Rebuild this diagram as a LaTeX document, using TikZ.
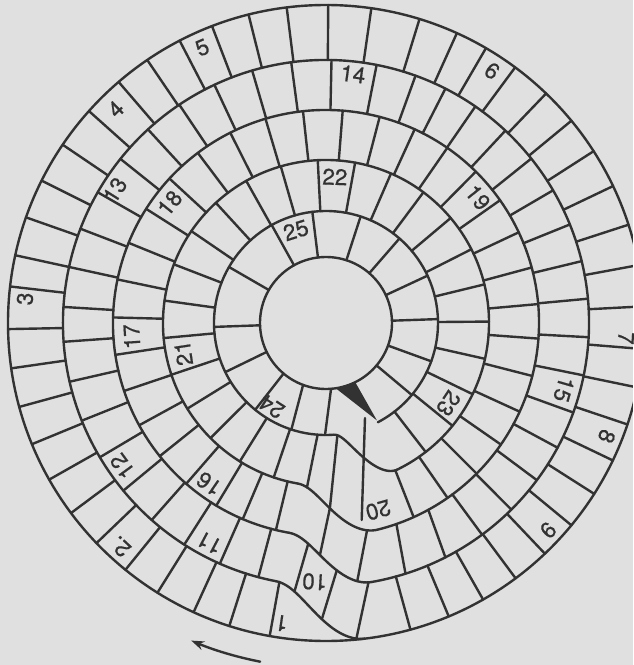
\documentclass[tikz,border=0pt]{standalone}
\usepackage{fontspec}
\setmainfont{TeX Gyre Heros}
\newfontfamily\numfont{TeX Gyre Heros}[FakeBold=0.6]
\usetikzlibrary{arrows.meta}
\definecolor{paper}{RGB}{224,224,224}
\definecolor{ink}{RGB}{50,50,50}
\begin{document}
\begin{tikzpicture}[x=1pt,y=1pt,line join=round,line cap=round,
 declare function={clampx(\t)=min(max(\t,0),1); easex(\t)=(1-cos(180*clampx(\t)))/2;
 spir(\p)=318-55*easex((\p-83)/18)-50*easex((\p-440)/20)-50*easex((\p-796)/24)-51*easex((\p-1144)/22)-46*((\p)>1502.5);},
 ln/.style={draw=ink,line width=2.4pt},
 lbl/.style={font=\numfont\fontsize{22.5}{22.5}\selectfont,text=ink,inner sep=0pt}]
\fill[paper] (-326,-342) rectangle (307,323);
\useasboundingbox (-326,-342) rectangle (307,323);
\begin{scope}
\clip (-326,-342) rectangle (307,323);
% rings
\draw[ln] (0,0) circle[radius=318];
\draw[ln] (0,0) circle[radius=66];
% spiral wall
\draw[ln] plot[domain=83:101,samples=36] ({-\x}:{spir(\x)});
\draw[ln] (-101:263) arc[start angle=-101,end angle=-440,radius=263];
\draw[ln] plot[domain=440:460,samples=36] ({-\x}:{spir(\x)});
\draw[ln] (-460:213) arc[start angle=-460,end angle=-796,radius=213];
\draw[ln] plot[domain=796:820,samples=36] ({-\x}:{spir(\x)});
\draw[ln] (-820:163) arc[start angle=-820,end angle=-1144,radius=163];
\draw[ln] plot[domain=1144:1166,samples=36] ({-\x}:{spir(\x)});
\draw[ln] (-1166:112) arc[start angle=-1166,end angle=-1502.4,radius=112];
% dividers (clockwise angle from the +x axis)
\foreach \p in {100.2,107.7,114.6,122.0,129.1,136.2,143.3,150.5,157.6,164.7,171.8,178.9,
  186.6,192.3,199.4,206.6,214.1,221.8,229.3,235.8,242.6,249.0,255.9,262.9,270.4,278.2,
  287.1,294.3,300.2,306.5,313.8,320.5,327.3,334.5,342.0,349.5,357.0,364.7,371.7,378.6,
  385.6,392.5,399.5,406.5,413.4,420.4,427.3,434.6,
  464.9,473.8,482.6,491.5,500.4,509.3,518.2,527.1,535.9,543.5,552.3,561.0,
  569.8,578.6,587.4,596.1,604.9,613.7,622.4,631.2,641.1,649.9,657,664.6,673.0,681.3,
  689.7,698.0,706.4,714.7,723.1,731.5,739.9,748.3,756.7,765.2,773.6,
  823.6,833,841,851,861.3,871.3,881.4,891.4,901.5,911.8,922.1,932.4,942.7,953.0,
  963.3,973.5,983.8,994.5,1004.6,1014.6,1024.7,1034.7,1044.8,1054.8,1064.9,1074.9,1084.2,
  1094.4,1104.6,1114.8,1125,1135.2,
  1188.7,1201.9,1215.1,1228.3,1241.5,1254.7,1267.9,1281.1,1294.3,1307.5,1320.7,
  1333.9,1347.1,1360.3,1373.5,1386.7,1399.9,1413.1,1426.3,1439.5,1452.7,1465.9,1479.1,1492.3,
  1594,1618,1650,1681,1703,1728,1751,1775,1798,1820,1840}{
  \draw[ln] ({-\p}:{spir(\p)}) -- ({-\p}:{spir(\p-360)});}
% slanted dividers in the bottom transition zone: inner end / outer end
\foreach \a/\b in {440.7/444.5,447.5/450.8,454.6/456.7,
  781.3/783,790.7/792.4,798.8/803.1,808.8/811.5,
  1144.8/1145.7,1164.2/1168.8,1174.3/1176.6,
  1525.6/1530.5,1550.3/1548,1570/1569.2}{
  \draw[ln] ({-\a}:{spir(\a)}) -- ({-\b}:{spir(\b-360)});}
\coordinate (lt) at (39,-95);
\coordinate (lb) at (35.7,-197);
\draw[ln] (lt) -- (lb);
% goal wedge
\fill[ink] (-81.5:66) -- (-63.7:66) -- (-62.4:110) -- cycle;
\end{scope}
% labels
\node[lbl,rotate=-188.4] (n1) at (-98.4:303.5) {1};
\node[lbl,rotate=-223] (n2) at (-132.6:304) {2.};
\node[lbl,rotate=85.4] (n3) at (175.4:302) {3};
\node[lbl,rotate=43.8] (n4) at (134.5:300) {4};
\node[lbl,rotate=23.6] (n5) at (114.2:302) {5};
\node[lbl,rotate=-34.4] (n6) at (56.6:302) {6};
\node[lbl,rotate=-92.9] (n7) at (-2.9:300.4) {7};
\node[lbl,rotate=-112] (n8) at (-22:302.8) {8};
\node[lbl,rotate=-134.7] (n9) at (-43:303.7) {9};
\node[lbl,rotate=-183.5] (n10) at (-92.5:259) {10};
\node[lbl,rotate=-207.9] (n11) at (-117.9:249) {11};
\node[lbl,rotate=-234] (n12) at (-144.9:249) {12};
\node[lbl,rotate=57.8] (n13) at (147.8:249.4) {13};
\node[lbl,rotate=-7.8] (n14) at (83.8:250.3) {14};
\node[lbl,rotate=-106.1] (n15) at (-15.6:247) {15};
\node[lbl,rotate=-214.5] (n16) at (-126:198.8) {16};
\node[lbl,rotate=-266.5] (n17) at (-176:194.7) {17};
\node[lbl,rotate=50.8] (n18) at (142.5:197) {18};
\node[lbl,rotate=-51.4] (n19) at (39.6:197) {19};
\node[lbl,rotate=-164.4] (n20) at (-74.4:194.2) {20};
\node[lbl,rotate=-261.3] (n21) at (-168:145.7) {21};
\node[lbl,rotate=-2] (n22) at (86.5:146.4) {22};
\node[lbl,rotate=-123.3] (n23) at (-33.3:146.5) {23};
\node[lbl,rotate=-213] (n24) at (-123:99.8) {24};
\node[lbl,rotate=17.5] (n25) at (108:97.5) {25};
% direction arrow
\coordinate (as) at (-101:345);
\draw[ln,-{Stealth[length=13pt,width=9pt]}] (as) arc[start angle=-101,end angle=-113,radius=345];
\end{tikzpicture}
\end{document}
